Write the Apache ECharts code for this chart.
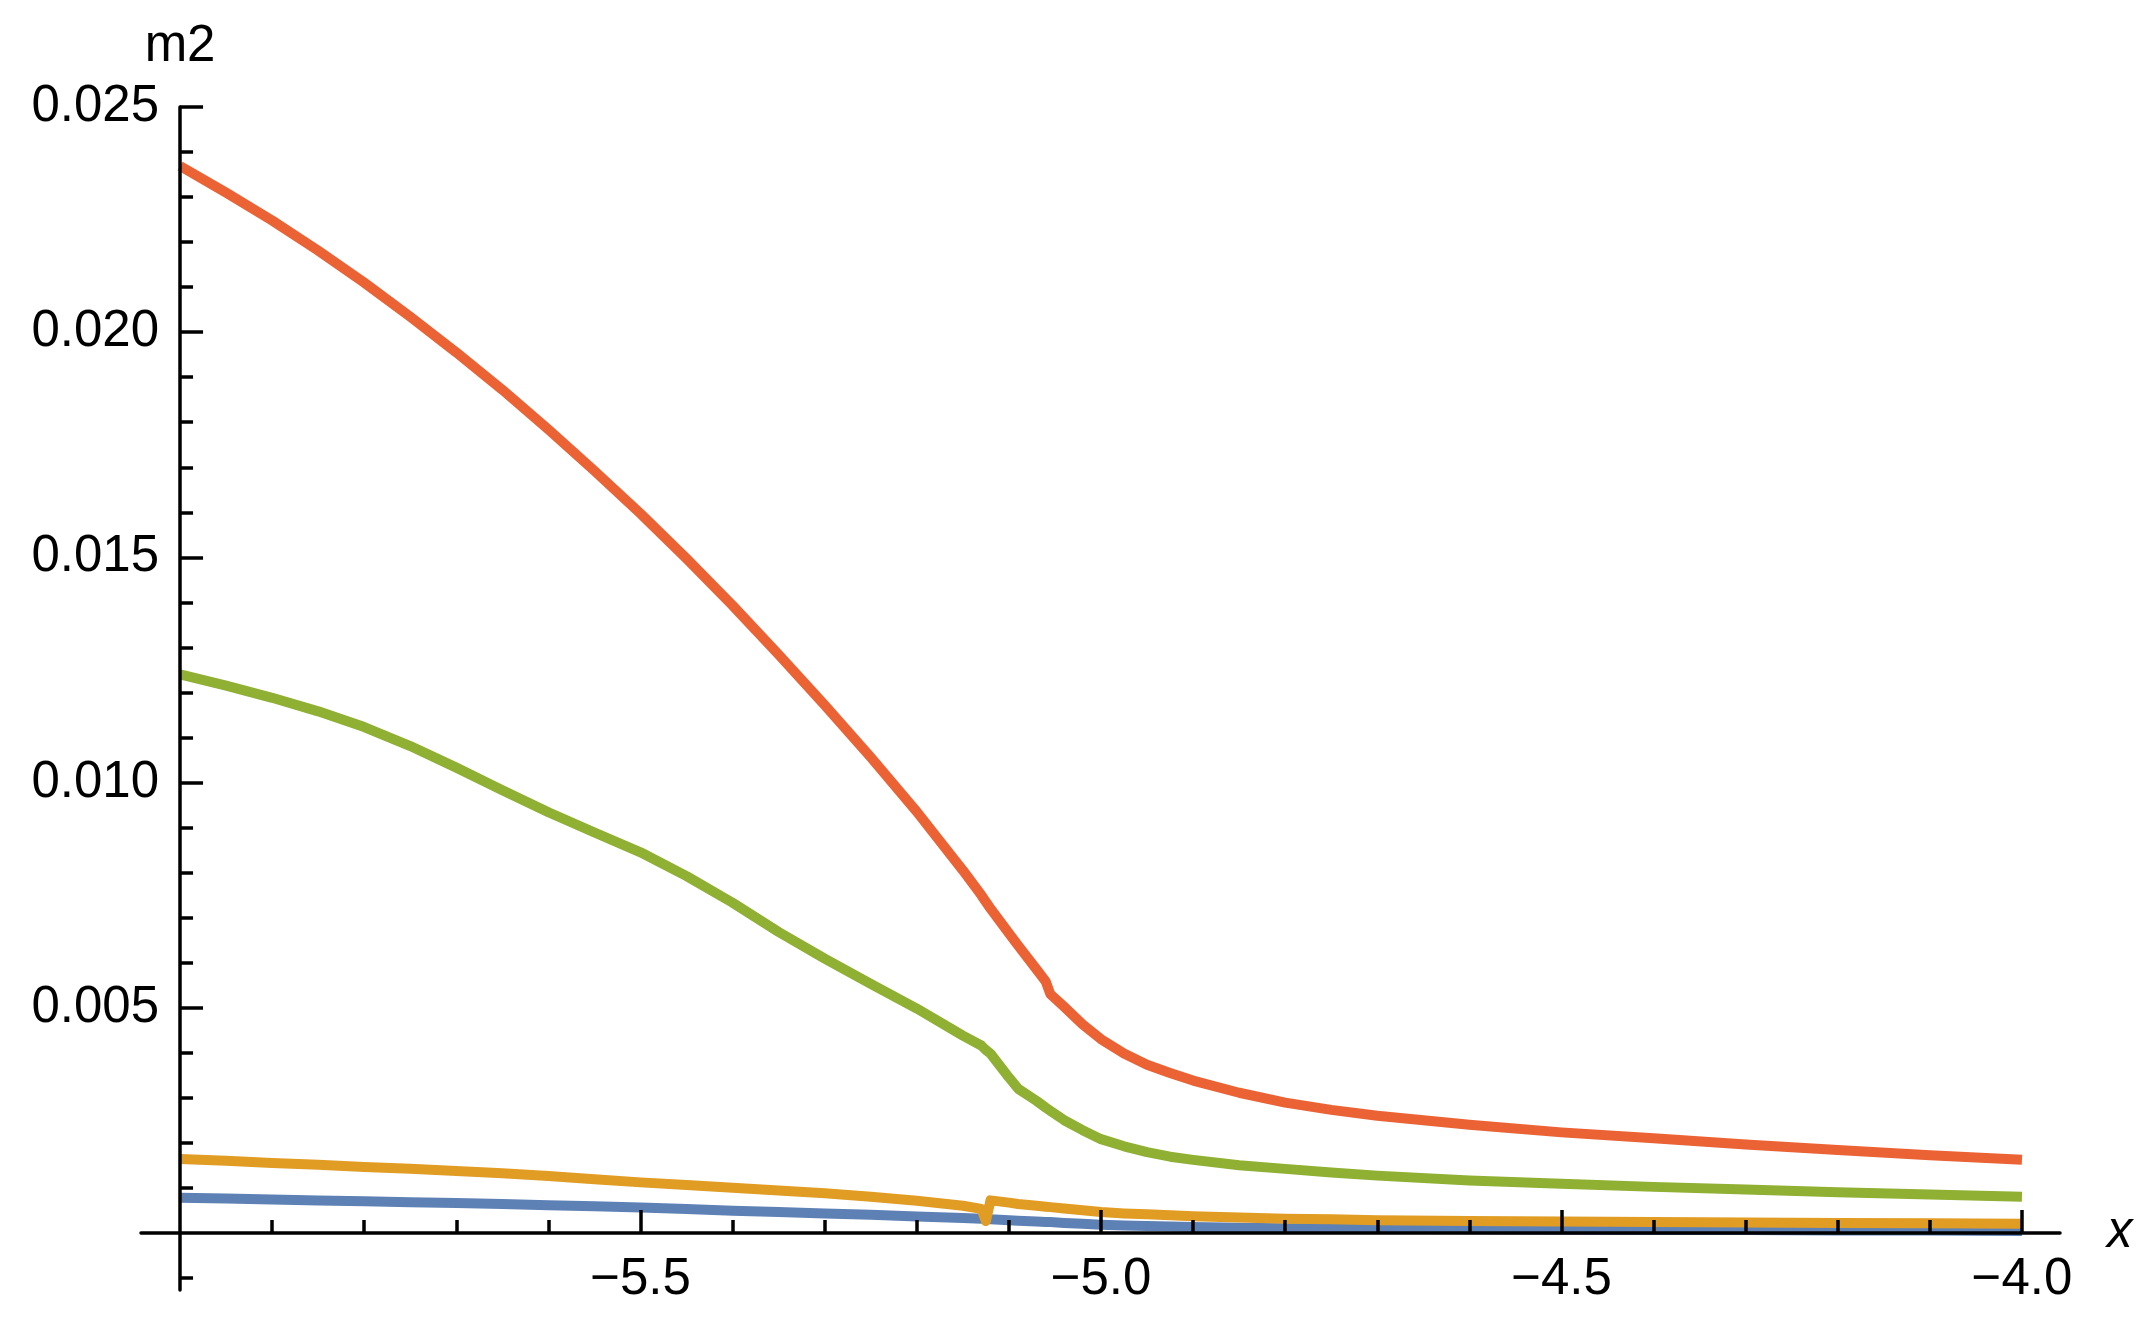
<!DOCTYPE html>
<html>
<head>
<meta charset="utf-8">
<script src="https://cdn.jsdelivr.net/npm/echarts@6/dist/echarts.min.js"></script>
<style>
  html, body { margin: 0; padding: 0; background: #fff; }
  #chart { width: 2148px; height: 1322px; }
</style>
</head>
<body>
<div id="chart"></div>
<script>
// x positions sampled along the curves
const xs = [-6.0, -5.95, -5.9, -5.85, -5.8, -5.75, -5.7, -5.65, -5.6, -5.55, -5.5, -5.45, -5.4, -5.35, -5.3, -5.25,
            -5.2, -5.15, -5.13, -5.125, -5.12, -5.1, -5.09, -5.07, -5.06, -5.055, -5.04, -5.02, -5.0, -4.975,
            -4.95, -4.925, -4.9, -4.85, -4.8, -4.75, -4.7, -4.6, -4.5, -4.4, -4.3, -4.2, -4.1, -4.0];

const blueVals = [0.00078, 0.00076, 0.00074, 0.00072, 0.0007, 0.00068, 0.00066, 0.00064, 0.00061, 0.00059, 0.00056, 0.00053, 0.00049, 0.00046, 0.00043, 0.0004,
                  0.00036, 0.00033, 0.00031, 0.00031, 0.0003, 0.00028, 0.00027, 0.00025, 0.00024, 0.00024, 0.00022, 0.0002, 0.00018, 0.00016,
                  0.00015, 0.00014, 0.00013, 0.00011, 0.0001, 0.0001, 0.00009, 0.00008, 0.00007, 0.00006, 0.00006, 0.00005, 0.00005, 0.00004];

const orangeVals = [0.00164, 0.0016, 0.00155, 0.00151, 0.00146, 0.00142, 0.00137, 0.00132, 0.00126, 0.00119, 0.00112, 0.00106, 0.001, 0.00094, 0.00088, 0.0008,
                    0.00071, 0.0006, 0.00053, 0.00026, 0.00072, 0.00067, 0.00064, 0.0006, 0.00058, 0.00057, 0.00054, 0.0005, 0.00046, 0.00043,
                    0.00041, 0.00039, 0.00037, 0.00034, 0.00031, 0.0003, 0.00028, 0.00026, 0.00025, 0.00024, 0.00023, 0.00022, 0.00021, 0.0002];

const greenVals = [0.0124, 0.01215, 0.01188, 0.01158, 0.01123, 0.01081, 0.01033, 0.00983, 0.00934, 0.00889, 0.00845, 0.00792, 0.00733, 0.00668, 0.00609, 0.00553,
                   0.00498, 0.00438, 0.00416, 0.00406, 0.00398, 0.00345, 0.0032, 0.00293, 0.00278, 0.00271, 0.0025, 0.00228, 0.00208, 0.00192,
                   0.00179, 0.00169, 0.00162, 0.0015, 0.00142, 0.00134, 0.00127, 0.00116, 0.00109, 0.00102, 0.00096, 0.0009, 0.00085, 0.0008];

const redVals = [0.02369, 0.0231, 0.02248, 0.02181, 0.0211, 0.02034, 0.01955, 0.01872, 0.01784, 0.01692, 0.01597, 0.01497, 0.01393, 0.01284, 0.01172, 0.01056,
                 0.00935, 0.00805, 0.0075, 0.00735, 0.0072, 0.00665, 0.00638, 0.00585, 0.00558, 0.0053, 0.00502, 0.00463, 0.0043, 0.00398,
                 0.00373, 0.00355, 0.00338, 0.00311, 0.00289, 0.00273, 0.0026, 0.0024, 0.00223, 0.0021, 0.00196, 0.00184, 0.00172, 0.00162];

const xMajorTicks = [-5.5, -5.0, -4.5, -4.0];
const xMinorTicks = [-5.9, -5.8, -5.7, -5.6, -5.4, -5.3, -5.2, -5.1, -4.9, -4.8, -4.7, -4.6, -4.4, -4.3, -4.2, -4.1];
const yMajorTicks = [0.005, 0.01, 0.015, 0.02, 0.025];
const yMinorTicks = [-0.001, 0.001, 0.002, 0.003, 0.004, 0.006, 0.007, 0.008, 0.009, 0.011, 0.012, 0.013, 0.014,
                     0.016, 0.017, 0.018, 0.019, 0.021, 0.022, 0.023, 0.024];

const colors = { blue: '#5E81B5', orange: '#E19C24', green: '#8FB032', red: '#EB6235' };

// plot range (padded a little past the data, like the original)
const X_MIN = -6.0424, X_MAX = -3.9587;
const Y_MIN = -0.00127, Y_MAX = 0.025;
const chartW = 2148;
const gridLeft = 141, gridRight = 88, gridTop = 107;
const zeroBottom = 89;   // grid whose bottom edge is y = 0
const fullBottom = 32;   // grid that reaches down to Y_MIN
const plotWidth = chartW - gridLeft - gridRight;
// y axis sits at x = -6, not at the left edge of the grid
const yAxisShift = -((-6 - X_MIN) / (X_MAX - X_MIN)) * plotWidth;

const fontFamily = '"Liberation Sans", Arial, Helvetica, sans-serif';
const fontSize = 51;
const black = '#000';
const tickStyle = { color: black, width: 3.5 };

function pairs(vals) {
    return xs.map((x, i) => [x, vals[i]]);
}

function fmtX(v) {
    return (v < 0 ? '\u2212' : '') + Math.abs(v).toFixed(1);
}

function lineSeries(vals, color) {
    return {
        type: 'line', data: pairs(vals), xAxisIndex: 2, yAxisIndex: 1,
        showSymbol: false, smooth: false, clip: true,
        lineStyle: { color: color, width: 10, join: 'round', cap: 'butt' },
        itemStyle: { color: color }
    };
}

const chart = echarts.init(document.getElementById('chart'));
chart.setOption({
    animation: false,
    backgroundColor: '#fff',
    grid: [
        { left: gridLeft, right: gridRight, top: gridTop, bottom: zeroBottom, outerBoundsMode: 'none', containLabel: false },
        { left: gridLeft, right: gridRight, top: gridTop, bottom: fullBottom, outerBoundsMode: 'none', containLabel: false }
    ],
    xAxis: [
        {
            gridIndex: 0, type: 'value', position: 'bottom', min: X_MIN, max: X_MAX, z: 10,
            axisLine: { show: true, onZero: false, lineStyle: tickStyle },
            axisTick: { show: true, customValues: xMajorTicks, inside: true, length: 23, lineStyle: tickStyle },
            axisLabel: { customValues: xMajorTicks, formatter: fmtX, margin: 21, fontSize: fontSize, color: black, fontFamily: fontFamily },
            splitLine: { show: false },
            name: 'x', nameLocation: 'end', nameGap: 47,
            nameTextStyle: { fontSize: fontSize, fontStyle: 'italic', color: black, fontFamily: fontFamily }
        },
        {
            gridIndex: 0, type: 'value', position: 'bottom', min: X_MIN, max: X_MAX, z: 10,
            axisLine: { show: false, onZero: false },
            axisTick: { show: true, customValues: xMinorTicks, inside: true, length: 13, lineStyle: tickStyle },
            axisLabel: { show: false },
            splitLine: { show: false }
        },
        {
            gridIndex: 1, type: 'value', min: X_MIN, max: X_MAX, show: false,
            axisLine: { onZero: false }
        }
    ],
    yAxis: [
        {
            gridIndex: 0, type: 'value', position: 'left', min: 0, max: Y_MAX, offset: yAxisShift, z: 10,
            axisLine: { show: false, onZero: false },
            axisTick: { show: true, customValues: yMajorTicks, inside: true, length: 23, lineStyle: tickStyle },
            axisLabel: { customValues: yMajorTicks, formatter: v => v.toFixed(3), margin: 21, fontSize: fontSize, color: black, fontFamily: fontFamily },
            splitLine: { show: false },
            name: 'm2', nameLocation: 'end', nameGap: 35,
            nameTextStyle: { fontSize: fontSize, color: black, fontFamily: fontFamily }
        },
        {
            gridIndex: 1, type: 'value', position: 'left', min: Y_MIN, max: Y_MAX, offset: yAxisShift, z: 10,
            axisLine: { show: true, onZero: false, lineStyle: tickStyle },
            axisTick: { show: true, customValues: yMinorTicks, inside: true, length: 13, lineStyle: tickStyle },
            axisLabel: { show: false },
            splitLine: { show: false }
        }
    ],
    series: [
        lineSeries(blueVals, colors.blue),
        lineSeries(orangeVals, colors.orange),
        lineSeries(greenVals, colors.green),
        lineSeries(redVals, colors.red)
    ]
});
</script>
</body>
</html>
